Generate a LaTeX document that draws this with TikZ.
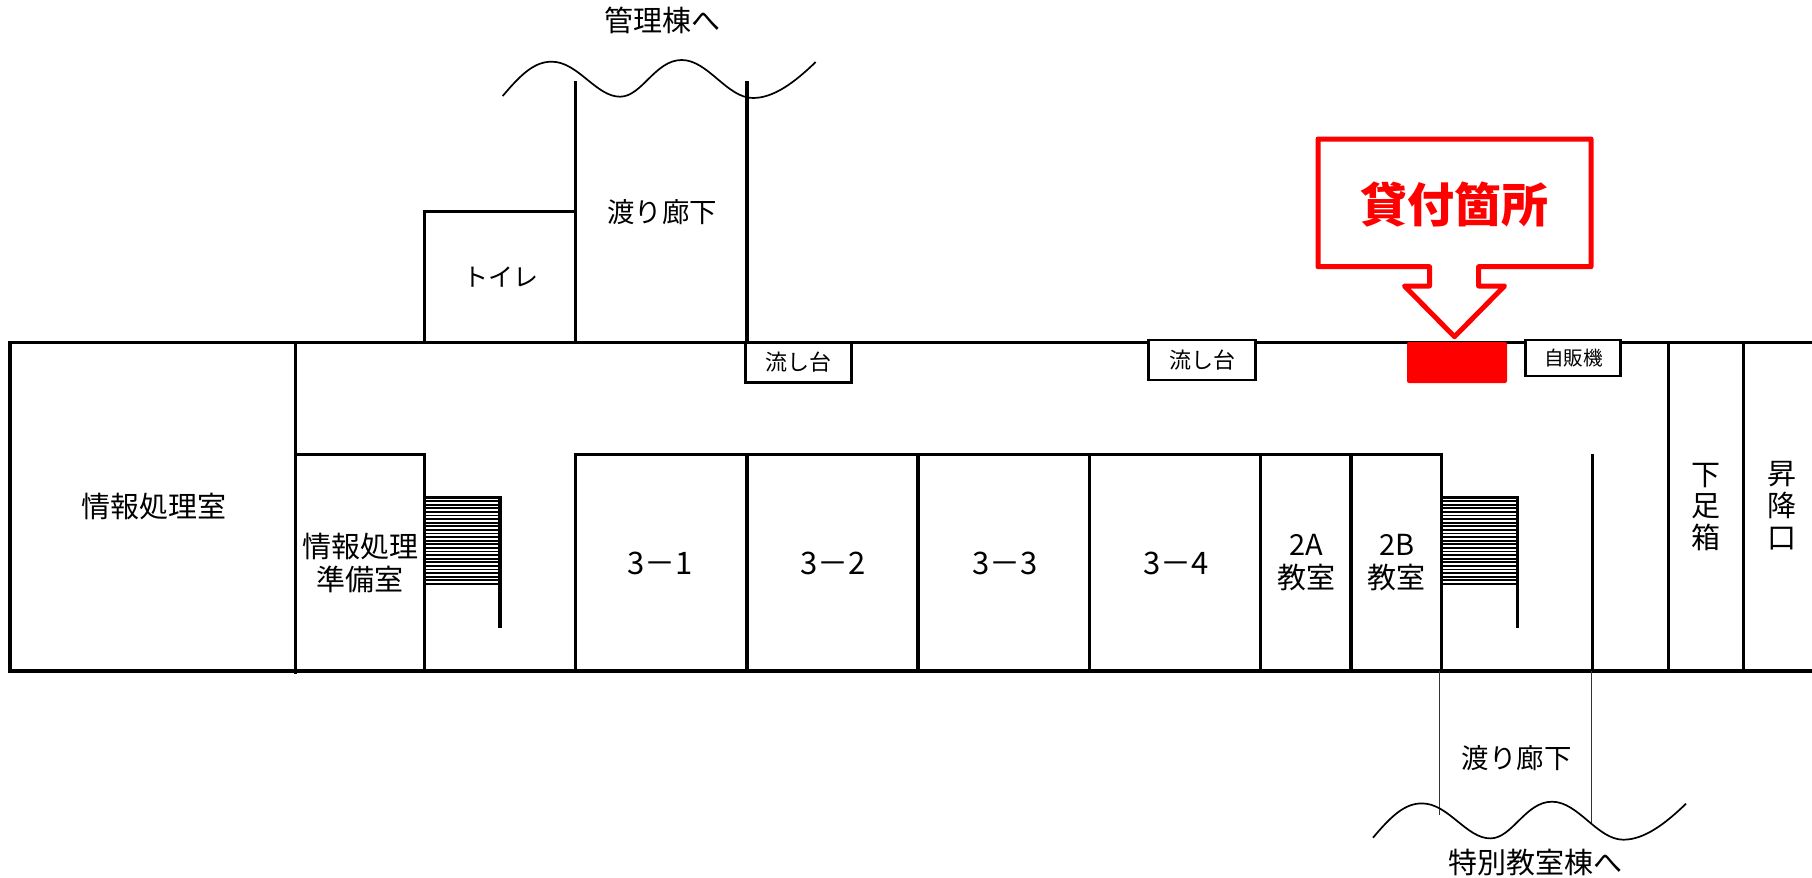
\documentclass[tikz,border=0pt]{standalone}
\usepackage{fontspec}
\setmainfont{Noto Sans CJK JP}
\newcommand{\wavecurve}{(502.7,96) .. controls (522,73) and (535,61.7) .. (551.7,61.7) .. controls (578,61.7) and (596,96.7) .. (620,96.7) .. controls (642,96.7) and (655,60) .. (681.7,60) .. controls (708,60) and (727,98) .. (753,98) .. controls (774,98) and (795,82) .. (815.7,62)}
\tikzset{
  wall/.style={line width=1.55pt,black},
  wavy/.style={line width=0.85pt,black},
  thinwall/.style={line width=0.5pt,black!80},
  tread/.style={line width=0.85pt,black},
  lbl/.style={inner sep=0pt,font=\fontsize{14.5}{16.5}\selectfont,align=center},
  corr/.style={inner sep=0pt,font=\fontsize{13.7}{16}\selectfont},
  roomnum/.style={inner sep=0pt,font=\fontsize{15.5}{17}\selectfont},
  vlbl/.style={inner sep=0pt,font=\fontsize{14.5}{15.9}\selectfont,align=center},
  tag/.style={draw=black,line width=1.4pt,fill=white},
  smalltag/.style={inner sep=0pt,font=\fontsize{9.8}{12}\selectfont},
  sinktag/.style={inner sep=0pt,font=\fontsize{11}{12}\selectfont},
  callout/.style={draw=red,line width=2.5pt,line join=round,fill=white},
}
\begin{document}
\begin{tikzpicture}[x=0.5pt,y=-0.5pt]
\useasboundingbox (0,0) rectangle (1812,878);
% outer walls
\draw[wall] (1812,342.5) -- (10,342.5) -- (10,671) -- (1812,671);
% upper annex
\draw[wall] (424.5,342.5) -- (424.5,211.5) -- (575.3,211.5);
\draw[wall] (575.3,81) -- (575.3,342.5);
\draw[wall] (747,81) -- (747,342.5);
\draw[wavy] \wavecurve;
% left rooms
\draw[wall] (295.3,342.5) -- (295.3,674);
\draw[wall] (295.3,454.5) -- (424.5,454.5) -- (424.5,671);
% classroom row
\draw[wall] (575.3,671) -- (575.3,454.5) -- (1441.3,454.5) -- (1441.3,671);
\foreach \xx in {747,918,1089.3,1260.3,1351}{
  \draw[wall] (\xx,454.5) -- (\xx,671);
}
% stairs
\foreach \yy in {497.5,501.1,...,584.5}{
  \draw[tread] (424.5,\yy) -- (500,\yy);
  \draw[tread] (1441.3,\yy) -- (1517.3,\yy);
}
\draw[wall] (424.5,497.5) -- (500,497.5) -- (500,628);
\draw[wall] (1441.3,497.5) -- (1517.3,497.5) -- (1517.3,628);
% right end
\draw[wall] (1592.3,454) -- (1592.3,671);
\draw[wall] (1668.3,342.5) -- (1668.3,673);
\draw[wall] (1743.3,342.5) -- (1743.3,673);
% lower corridor
\draw[thinwall] (1439.7,671) -- (1439.7,815);
\draw[thinwall] (1591.3,671) -- (1591.3,823);
\begin{scope}[shift={(870.3,741.7)}]
  \draw[wavy] \wavecurve;
\end{scope}
% sinks, vending machine, loan spot
\node[tag,minimum width=53pt,minimum height=20.2pt,inner sep=0pt] (sinka) at (798.7,362.5) {};
\node[tag,minimum width=53.5pt,minimum height=20pt,inner sep=0pt] (sinkb) at (1202.3,360) {};
\node[tag,minimum width=47.5pt,minimum height=18pt,inner sep=0pt] (vend) at (1573,358) {};
\node[fill=red,rounded corners=1pt,minimum width=50pt,minimum height=20.5pt,inner sep=0pt] (spot) at (1457,362.5) {};
\node[sinktag] (sinkat) at (sinka) {流し台};
\node[sinktag] (sinkbt) at (sinkb) {流し台};
\node[smalltag] (vendt) at (1573.6,358.5) {自販機};
% callout
\draw[callout] (1318,139) -- (1591,139) -- (1591,266.7) -- (1478.6,266.7) -- (1478.6,286) -- (1504.5,286) -- (1454.5,336.7) -- (1404.5,286) -- (1429.5,286) -- (1429.5,266.7) -- (1318,266.7) -- cycle;
\node[inner sep=0pt,text=red,font=\fontsize{23.5}{26}\selectfont\bfseries] (loan) at (1454.5,204) {貸付箇所};
% labels
\node[lbl] (kanri) at (662,20) {管理棟へ};
\node[corr] (watari) at (662,212) {渡り廊下};
\node[lbl,font=\fontsize{12.5}{14}\selectfont] (toilet) at (500.7,277) {トイレ};
\node[lbl] (joho) at (154,507) {情報処理室};
\node[lbl] (junbi) at (360,563) {情報処理\\準備室};
\node[roomnum] (r31) at (660,563) {3－1};
\node[roomnum] (r32) at (833.3,563) {3－2};
\node[roomnum] (r33) at (1005,563) {3－3};
\node[roomnum] (r34) at (1175.7,563) {3－4};
\node[lbl] (r2a) at (1306,563) {2A\\教室};
\node[lbl] (r2b) at (1396.7,563) {2B\\教室};
\node[vlbl] (geta) at (1705.7,507) {下\\足\\箱};
\node[vlbl] (shoko) at (1781.7,505.5) {昇\\降\\口};
\node[corr] (watarib) at (1516.7,758) {渡り廊下};
\node[lbl] (tokubetsu) at (1535,862.7) {特別教室棟へ};
\end{tikzpicture}
\end{document}
